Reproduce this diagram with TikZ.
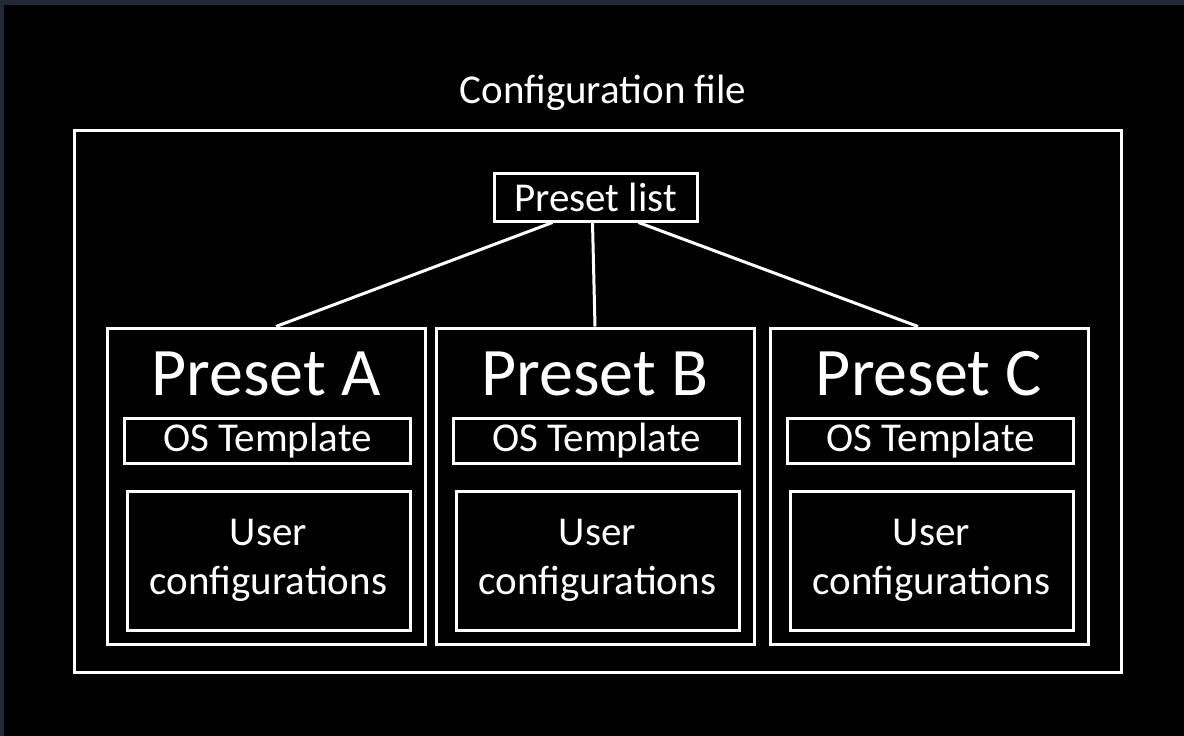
\documentclass[tikz,border=0pt]{standalone}
\usepackage{fontspec}
\setmainfont{Carlito}
\usetikzlibrary{positioning}

\definecolor{frame}{HTML}{222834}

\begin{document}
\begin{tikzpicture}[
  x=1pt, y=-1pt,
  box/.style={draw=white, line width=3pt, inner sep=0pt},
  txt/.style={text=white, font=\fontsize{41}{49}\selectfont, align=center},
  title/.style={text=white, font=\fontsize{68}{70}\selectfont, anchor=base},
  wire/.style={draw=white, line width=3pt}
]
  % page background and the frame along top and left
  \fill[frame] (0,0) rectangle (1184,736);
  \fill[black] (4,5) rectangle (1184,736);
  \useasboundingbox (0,0) rectangle (1184,736);

  \node[txt] (cfgname) at (603,93) {Configuration file};
  \node[box, minimum width=1047pt, minimum height=542pt] (cfg) at (597.5,401) {};
  \node[box, txt, minimum width=203pt, minimum height=48pt] (list) at (595.5,197) {Preset list};

  % the three presets
  \foreach \n/\x/\l in {pa/266/A, pb/595/B, pc/929/C} {
    \node[box, minimum width=318pt, minimum height=316pt] (\n) at (\x,486) {};
    \node[title] (\n title) at (\x,395) {Preset \l};
    \node[box, txt, minimum width=286pt, minimum height=45pt] (\n os) at (\x+1.5,440.5) {OS Template};
    \node[box, txt, minimum width=283pt, minimum height=139pt] (\n user) at (\x+2.5,560.5) {User\\configurations};
  }

  \draw[wire] ([xshift=-43pt]list.south) -- ([xshift=10pt]pa.north);
  \draw[wire] ([xshift=-3pt]list.south) -- (pb.north);
  \draw[wire] ([xshift=43pt]list.south) -- ([xshift=-11pt]pc.north);
\end{tikzpicture}
\end{document}
